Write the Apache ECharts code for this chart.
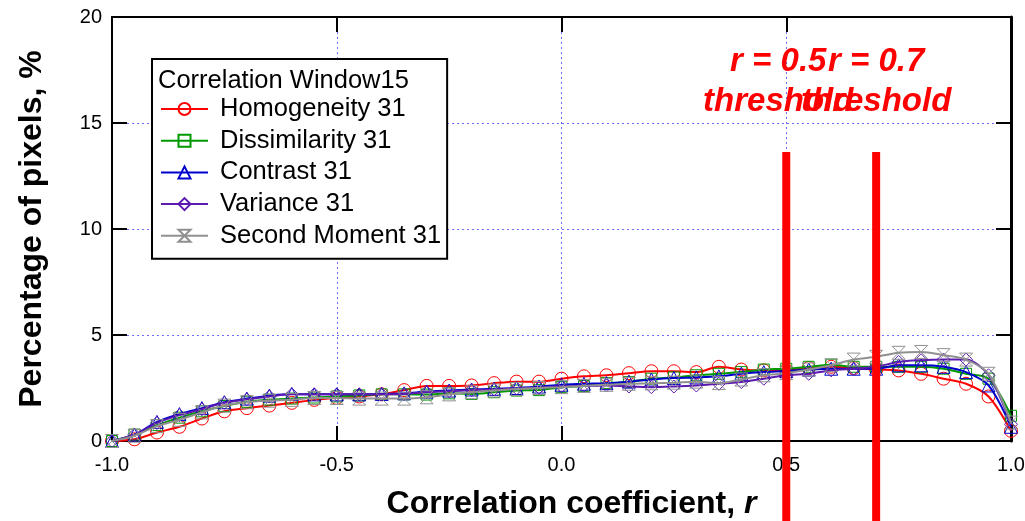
<!DOCTYPE html>
<html>
<head>
<meta charset="utf-8">
<script src="https://cdn.jsdelivr.net/npm/echarts@6/dist/echarts.min.js"></script>
<style>html,body{margin:0;padding:0;background:#fff;}#chart{width:1025px;height:521px;}</style>
</head>
<body>
<div id="chart"></div>
<script>
// r values from -1.0 to 1.0 in steps of 0.05
const rValues = [-1.0,-0.95,-0.9,-0.85,-0.8,-0.75,-0.7,-0.65,-0.6,-0.55,-0.5,-0.45,-0.4,-0.35,-0.3,-0.25,-0.2,-0.15,-0.1,-0.05,0.0,0.05,0.1,0.15,0.2,0.25,0.3,0.35,0.4,0.45,0.5,0.55,0.6,0.65,0.7,0.75,0.8,0.85,0.9,0.95,1.0];
const homogeneity = [0.0,0.08,0.4,0.67,1.06,1.4,1.55,1.67,1.8,1.94,2.03,2.1,2.2,2.4,2.6,2.6,2.62,2.73,2.8,2.8,2.94,3.05,3.1,3.2,3.29,3.29,3.25,3.5,3.37,3.33,3.33,3.44,3.5,3.44,3.37,3.33,3.17,2.94,2.7,2.1,0.48];
const dissimilarity = [0.0,0.3,0.75,1.1,1.4,1.65,1.85,1.95,2.0,2.05,2.1,2.15,2.2,2.2,2.19,2.25,2.22,2.3,2.38,2.4,2.54,2.6,2.73,2.78,2.94,3.0,3.1,3.17,3.25,3.37,3.41,3.5,3.6,3.5,3.5,3.5,3.5,3.41,3.17,2.94,1.19];
const contrast = [0.0,0.3,0.9,1.27,1.55,1.83,2.0,2.14,2.22,2.2,2.2,2.2,2.22,2.25,2.33,2.38,2.43,2.46,2.5,2.57,2.65,2.7,2.73,2.8,2.9,2.97,3.0,3.05,3.17,3.25,3.3,3.37,3.41,3.41,3.41,3.57,3.57,3.5,3.25,2.62,0.67];
const variance = [0.0,0.3,0.85,1.22,1.5,1.8,1.97,2.1,2.2,2.2,2.2,2.2,2.2,2.22,2.3,2.35,2.4,2.43,2.48,2.52,2.58,2.6,2.62,2.57,2.54,2.57,2.62,2.7,2.78,2.94,3.1,3.17,3.33,3.41,3.5,3.73,3.81,3.84,3.84,3.1,0.79];
const secondMoment = [0.0,0.25,0.7,1.0,1.35,1.67,1.83,1.9,1.94,2.03,2.03,2.0,2.0,2.0,2.06,2.2,2.3,2.38,2.45,2.5,2.54,2.6,2.65,2.7,2.72,2.75,2.8,2.73,2.9,3.1,3.2,3.37,3.57,3.84,3.97,4.16,4.2,4.05,3.84,3.17,0.87];
const seriesNames = ['Homogeneity 31','Dissimilarity 31','Contrast 31','Variance 31','Second Moment 31'];
const thresholds = [0.5, 0.7];
const thresholdLabels = ['r = 0.5\nthreshold', 'r = 0.7\nthreshold'];
const thresholdTop = 13.63;
const thresholdBottom = -4;
const xTicks = [-1.0,-0.5,0.0,0.5,1.0];
const yTicks = [0,5,10,15,20];

const colors = ['#ff0000','#009900','#0000cc','#5b1ab0','#909090'];
const symbols = ['circle','rect','triangle','diamond','path://M0,0 L10,0 L0,10 L10,10 Z'];
const datasets = [homogeneity, dissimilarity, contrast, variance, secondMoment];

const chart = echarts.init(document.getElementById('chart'), null, {renderer:'canvas'});
const font = 'Arial, "Liberation Sans", sans-serif';

const series = datasets.map((d, i) => ({
  name: seriesNames[i],
  type: 'line',
  xAxisIndex: 0, yAxisIndex: 0,
  data: rValues.map((r, k) => [r, d[k]]),
  smooth: 0.3,
  symbol: symbols[i],
  symbolSize: i === 1 ? 11 : 13,
  showAllSymbol: true,
  lineStyle: {color: colors[i], width: 2},
  itemStyle: {color: 'rgba(0,0,0,0)', borderColor: colors[i], borderWidth: 1},
  emphasis: {disabled: true},
  animation: false,
  clip: false,
  z: 3 + i
}));

series.push({
  name: 'thresholds',
  type: 'custom',
  xAxisIndex: 0, yAxisIndex: 0,
  clip: false,
  silent: true,
  animation: false,
  data: thresholds.map(t => [t, thresholdTop, thresholdBottom]),
  renderItem: function (params, api) {
    const x = api.value(0);
    const p1 = api.coord([x, api.value(1)]);
    const p2 = api.coord([x, api.value(2)]);
    return {
      type: 'group',
      children: [{
        type: 'line',
        shape: {x1: p1[0], y1: p1[1], x2: p2[0], y2: p2[1]},
        style: {stroke: '#ff0000', lineWidth: 8}
      }, {
        type: 'text',
        x: p1[0] - (params.dataIndex === 0 ? 8 : 0), y: p1[1] - 30,
        style: {
          text: thresholdLabels[params.dataIndex],
          textAlign: 'center', textVerticalAlign: 'bottom',
          fill: '#ff0000',
          font: 'italic bold 33px Arial, "Liberation Sans", sans-serif',
          lineHeight: 40
        }
      }]
    };
  },
  z: 12
});

const option = {
  backgroundColor: '#fff',
  animation: false,
  title: {
    text: 'Correlation Window15',
    left: 158, top: 68, padding: 0,
    textStyle: {fontFamily: font, fontSize: 25.5, fontWeight: 'normal', color: '#000'},
    z: 20
  },
  legend: {
    data: seriesNames,
    orient: 'vertical',
    left: 152, top: 59,
    padding: [37, 6, 10, 8],
    itemWidth: 47, itemHeight: 15, itemGap: 5.7,
    backgroundColor: '#fff',
    borderColor: '#000', borderWidth: 2,
    textStyle: {fontFamily: font, fontSize: 25.5, color: '#000', lineHeight: 24, padding: [0, 0, 0, 7]},
    z: 15
  },
  grid: {left: 112, right: 14, top: 17, bottom: 80, show: false, containLabel: false, outerBoundsMode: 'none'},
  xAxis: [{
    type: 'value', min: -1.0, max: 1.0, interval: 0.5,
    position: 'bottom',
    name: '{a|Correlation coefficient, }{b|r}',
    nameLocation: 'middle', nameGap: 47,
    nameTextStyle: {padding: [0, 0, 0, 20], rich: {
      a: {fontFamily: font, fontSize: 32, fontWeight: 'bold', color: '#000'},
      b: {fontFamily: font, fontSize: 32, fontWeight: 'bold', fontStyle: 'italic', color: '#000'}
    }},
    axisLine: {show: true, onZero: false, lineStyle: {color: '#000', width: 2}},
    axisTick: {show: true, inside: true, length: 15, lineStyle: {color: '#000', width: 2}},
    axisLabel: {fontFamily: font, fontSize: 20, color: '#000', margin: 14, formatter: v => v.toFixed(1)},
    splitLine: {show: true, lineStyle: {color: '#6a6aff', width: 1, type: [2, 3]}}
  }, {
    type: 'value', min: -1.0, max: 1.0, interval: 0.5,
    position: 'top',
    axisLine: {show: true, onZero: false, lineStyle: {color: '#000', width: 2}},
    axisTick: {show: true, inside: true, length: 15, lineStyle: {color: '#000', width: 2}},
    axisLabel: {show: false},
    splitLine: {show: false}
  }],
  yAxis: [{
    type: 'value', min: 0, max: 20, interval: 5,
    position: 'left',
    name: 'Percentage of pixels, %',
    nameLocation: 'middle', nameGap: 64,
    nameTextStyle: {fontFamily: font, fontSize: 32, fontWeight: 'bold', color: '#000'},
    axisLine: {show: true, onZero: false, lineStyle: {color: '#000', width: 2}},
    axisTick: {show: true, inside: true, length: 15, lineStyle: {color: '#000', width: 2}},
    axisLabel: {fontFamily: font, fontSize: 20, color: '#000', margin: 10},
    splitLine: {show: true, lineStyle: {color: '#6a6aff', width: 1, type: [2, 3]}}
  }, {
    type: 'value', min: 0, max: 20, interval: 5,
    position: 'right',
    axisLine: {show: true, onZero: false, lineStyle: {color: '#000', width: 3}},
    axisTick: {show: true, inside: true, length: 15, lineStyle: {color: '#000', width: 2}},
    axisLabel: {show: false},
    splitLine: {show: false}
  }],
  series: series
};
chart.setOption(option);
</script>
</body>
</html>
